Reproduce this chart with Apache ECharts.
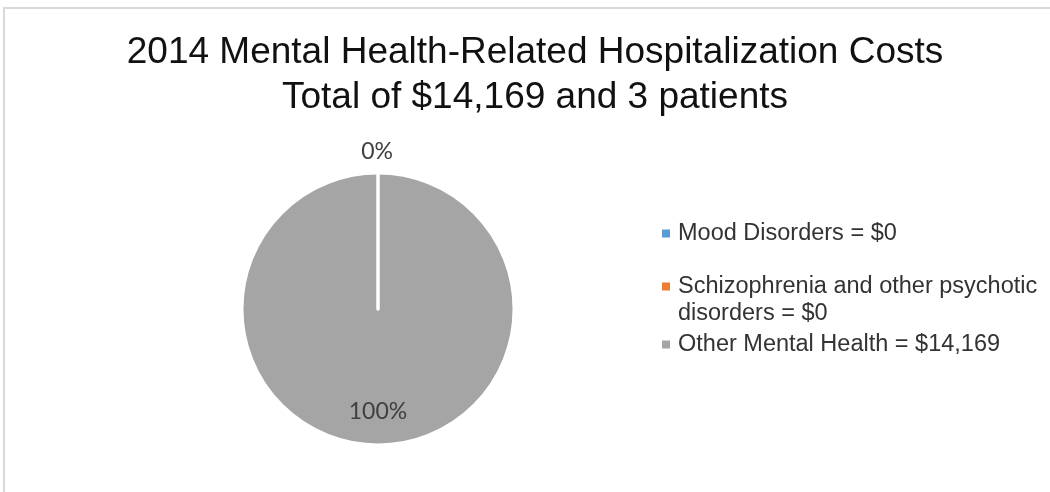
<!DOCTYPE html>
<html><head><meta charset="utf-8">
<script src="https://cdn.jsdelivr.net/npm/echarts@6/dist/echarts.min.js"></script>
<style>
html,body{margin:0;padding:0;overflow:hidden;background:#fff;width:1050px;height:492px}
#frame{position:absolute;left:3px;top:7px;width:1200px;height:700px;border-left:2px solid #d9d9d9;border-top:2px solid #d9d9d9;}
#chart{position:absolute;left:0;top:0;width:1050px;height:492px}
</style>
</head><body><div id="frame"></div><div id="chart"></div>
<script>
const titleText = '2014 Mental Health-Related Hospitalization Costs\nTotal of $14,169 and 3 patients';
const categories = ['Mood Disorders', 'Schizophrenia and other psychotic\ndisorders', 'Other Mental Health'];
const values = [0, 0, 14169];
const legendLabels = ['Mood Disorders = $0', 'Schizophrenia and other psychotic\ndisorders = $0', 'Other Mental Health = $14,169'];
const colors = ['#5B9BD5', '#ED7D31', '#A5A5A5'];

const labelStyles = [
  { show: true, position: 'outside', formatter: '{d}%', distanceToLabelLine: -15 },
  { show: false },
  { show: true, position: 'inside', formatter: ' \n{d}%', lineHeight: 63 }
];

const legendTops = [220, 246, 331];
const legendText = { fontFamily: 'Liberation Sans, Arial, sans-serif', fontSize: 23.5, color: '#333', lineHeight: 27, padding: [0, 0, 0, 3] };

// draw the large slice first so the zero-slice borders stay visible on top
const order = [2, 0, 1];

const chart = echarts.init(document.getElementById('chart'));
chart.setOption({
  animation: false,
  title: {
    text: titleText,
    left: 535,
    textAlign: 'center',
    top: 30,
    padding: 0,
    textStyle: { fontFamily: 'Liberation Sans, Arial, sans-serif', fontSize: 37, fontWeight: 'normal', color: '#111', lineHeight: 45 }
  },
  legend: legendLabels.map((name, i) => ({
    orient: 'vertical',
    left: 662,
    top: legendTops[i],
    padding: 0,
    itemWidth: 8,
    itemHeight: 8,
    icon: 'rect',
    selectedMode: false,
    itemStyle: { borderWidth: 0 },
    data: [{ name: name }],
    formatter: i === 1 ? (n => ' \n' + n) : (n => n),
    textStyle: legendText
  })),
  series: [{
    type: 'pie',
    center: [378, 309],
    radius: 136,
    startAngle: 90,
    clockwise: true,
    avoidLabelOverlap: false,
    silent: true,
    emphasis: { disabled: true },
    labelLine: { show: false, length: 21, length2: 0 },
    itemStyle: { borderColor: '#fff', borderWidth: 3 },
    label: {
      fontFamily: 'Lato, Open Sans, sans-serif',
      fontSize: 23,
      color: '#404040'
    },
    data: order.map(i => ({
      name: legendLabels[i],
      value: values[i],
      itemStyle: { color: colors[i] },
      label: labelStyles[i]
    }))
  }]
});
</script>
</body></html>
